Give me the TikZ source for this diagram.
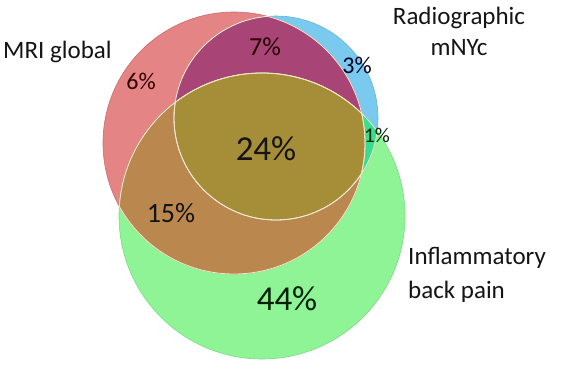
\documentclass[tikz,border=0pt]{standalone}
\usepackage{fontspec}
\setmainfont{Carlito}
\begin{document}
\begin{tikzpicture}[x=1pt,y=-1pt]
\definecolor{cred}{RGB}{228,132,132}
\definecolor{cblue}{RGB}{122,202,240}
\definecolor{cgreen}{RGB}{142,244,150}
\definecolor{cpurple}{RGB}{168,68,118}
\definecolor{colive}{RGB}{166,142,56}
\definecolor{cbrown}{RGB}{186,136,78}
\definecolor{cteal}{RGB}{56,222,142}
\definecolor{credl}{RGB}{200,110,110}
\definecolor{cbluel}{RGB}{100,180,220}
\definecolor{cgreenl}{RGB}{120,220,128}
\definecolor{cline}{RGB}{246,232,200}
\tikzset{
  lab/.style={font=\fontsize{25}{30}\selectfont, text=black!92, inner sep=0pt},
  pct/.style={font=\fontsize{24}{28}\selectfont, inner sep=0pt},
  big/.style={font=\fontsize{35}{40}\selectfont, inner sep=0pt},
  inner/.style={draw=cline, line width=0.8pt}
}
\useasboundingbox (0,0) rectangle (567,369);
\def\redc{(234,143) circle (131pt)}
\def\bluec{(276,118) circle (102pt)}
\def\greenc{(262,216) circle (143pt)}
% base fills
\fill[cgreen] \greenc;
\fill[cblue] \bluec;
\fill[cred] \redc;
\begin{scope}
  \clip \bluec;
  \fill[cteal] \greenc;
\end{scope}
\begin{scope}
  \clip \redc;
  \fill[cpurple] \bluec;
  \fill[cbrown] \greenc;
  \clip \bluec;
  \fill[colive] \greenc;
\end{scope}
% outer outlines
\draw[credl, line width=0.6pt] \redc;
\draw[cbluel, line width=0.6pt] \bluec;
\draw[cgreenl, line width=0.6pt] \greenc;
% inner boundary lines
\begin{scope}\clip \bluec; \draw[inner] \redc; \draw[inner] \greenc; \end{scope}
\begin{scope}\clip \greenc; \draw[inner] \redc; \draw[inner] \bluec; \end{scope}
\begin{scope}\clip \redc; \draw[inner] \bluec; \draw[inner] \greenc; \end{scope}
% labels
\node[lab, anchor=base west] (mri) at (3,59) {MRI global};
\node[lab, align=center, anchor=base] (rad) at (459,56) {Radiographic\\[1pt]mNYc};
\node[lab, align=left, anchor=base west] (ibp) at (408,298) {Inflammatory\\[4pt]back pain};
% percentages
\node[pct, text=black!80!red] (p6) at (141,81) {6\%};
\node[pct, font=\fontsize{26}{30}\selectfont, text=black!85!red] (p7) at (265,47) {7\%};
\node[pct, text=black!85!blue] (p3) at (357,65) {3\%};
\node[pct, font=\fontsize{21}{26}\selectfont, text=black!85!green] (p1) at (377,135) {1\%};
\node[big, text=black!92] (p24) at (266,149) {24\%};
\node[pct, font=\fontsize{28}{32}\selectfont, text=black!92] (p15) at (171,213) {15\%};
\node[big, text=black!88!green] (p44) at (287,299) {44\%};
\end{tikzpicture}
\end{document}
